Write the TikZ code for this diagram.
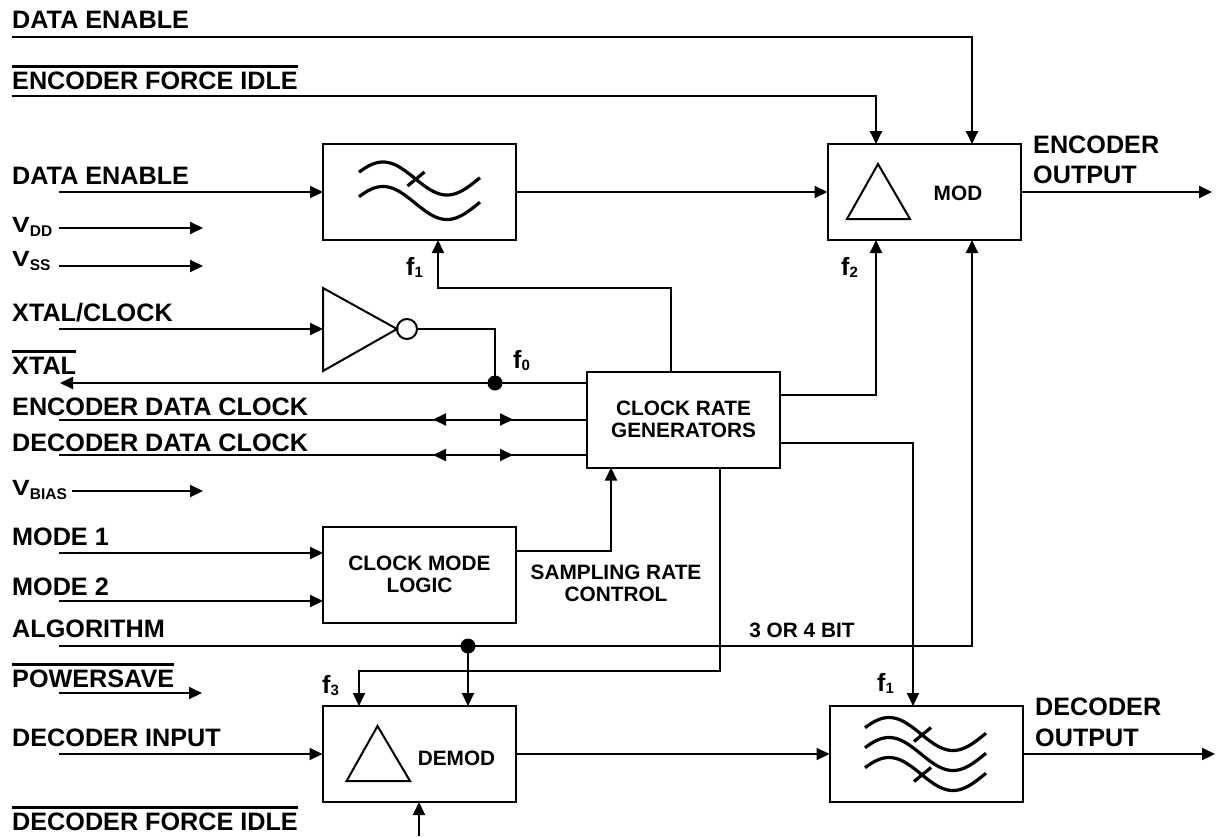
\documentclass[tikz,border=0pt]{standalone}
\usepackage{fontspec}
\setmainfont{Liberation Sans}
\usetikzlibrary{arrows.meta}
\newcommand\wavecurve[2]{\draw[line width=3.2pt,line join=round] plot[domain=0:121,samples=80] ({#1+\x},{#2-16.5*sin(2.8125*\x+22.5)});}
\newcommand\vlab[1]{\scalebox{1.2}[1]{\fontsize{22}{24}\selectfont V}\raisebox{-4.5pt}{\fontsize{15.5}{17}\selectfont #1}}
\newcommand\flab[1]{f\raisebox{-2.5pt}{\fontsize{15}{17}\selectfont #1}}
\tikzset{
  lw/.style={line width=2pt},
  arr/.style={lw,-{Triangle[length=13pt,width=12pt]}},
  dbl/.style={lw,{Triangle[length=13pt,width=12pt]}-{Triangle[length=13pt,width=12pt]}},
  blk/.style={draw,lw,minimum width=193pt,minimum height=96pt,inner sep=0pt,outer sep=0pt},
  lbl/.style={font=\fontsize{25.2}{30}\selectfont\bfseries,inner sep=0pt,anchor=base west},
  flbl/.style={font=\fontsize{25}{28}\selectfont\bfseries,inner sep=0pt,anchor=base west},
  btxt/.style={font=\fontsize{20.8}{22}\selectfont\bfseries,align=center,inner sep=0pt},
  dot/.style={circle,fill,inner sep=0pt,minimum size=15pt},
  obar/.style={line width=2.6pt},
}
\begin{document}
\begin{tikzpicture}[x=1pt,y=-1pt]
\useasboundingbox (0,0) rectangle (1218,836);
% guides
\coordinate (xL) at (876,0);
\coordinate (xR) at (972,0);
\coordinate (xF1) at (438,0);
\coordinate (xC1) at (671,0);
\coordinate (xSR) at (611,0);
\coordinate (xF3a) at (720,0);
\coordinate (xF3b) at (359,0);
\coordinate (xDF) at (913,0);
\coordinate (yX) at (0,383);
\coordinate (yDDC) at (0,455);
\coordinate (yF2) at (0,395);
\coordinate (yDF) at (0,443);
\coordinate (yM1) at (0,553);
\coordinate (yM2) at (0,601);
\coordinate (ySR) at (0,551);
\coordinate (yF3) at (0,671);
\coordinate (yF1) at (0,288);
% free ends
\coordinate (sDE1) at (12,37);
\coordinate (sEFI) at (12,96);
\coordinate (sDE2) at (59,192);
\coordinate (eEO) at (1212,192);
\coordinate (sVDD) at (59,228);
\coordinate (eVDD) at (203,228);
\coordinate (sVSS) at (59,266);
\coordinate (eVSS) at (203,266);
\coordinate (sXC) at (59,329);
\coordinate (invIn) at (323,329);
\coordinate (eX) at (60,383);
\coordinate (sEDC) at (59,419.5);
\coordinate (aEDC) at (433,419.5);
\coordinate (bEDC) at (513,419.5);
\coordinate (sDDC) at (59,455);
\coordinate (aDDC) at (433,455);
\coordinate (bDDC) at (513,455);
\coordinate (sVB) at (72,491);
\coordinate (eVB) at (203,491);
\coordinate (sM1) at (59,553);
\coordinate (sM2) at (59,601);
\coordinate (sAL) at (59,646);
\coordinate (sPS) at (59,693);
\coordinate (ePS) at (202,693);
\coordinate (sDI) at (59,754);
\coordinate (eDO) at (1215,754);
\coordinate (sDFI) at (419,836);
% blocks
\node[blk] (filt1) at (419.5,192) {};
\node[blk] (mod) at (924,192) {};
\node[blk,btxt] (crg) at (683.5,419.5) {CLOCK RATE\\GENERATORS};
\node[blk,btxt] (cml) at (419.5,574.5) {CLOCK MODE\\LOGIC};
\node[blk] (demod) at (419,754) {};
\node[blk] (filt2) at (926,754) {};
% filter symbols
\wavecurve{359}{178.5}
\wavecurve{359}{203}
\draw[line width=3.2pt] (407.5,186) -- (424.5,172);
\wavecurve{865}{734}
\wavecurve{865}{754}
\wavecurve{865}{774}
\draw[line width=3.2pt] (914,741.5) -- (931,727.5);
\draw[line width=3.2pt] (914,781.5) -- (931,767.5);
% triangles
\draw[lw,line join=miter] (878,164) -- (910,219) -- (847,219) -- cycle;
\draw[lw,line join=miter] (377.5,726) -- (410,781) -- (346.6,781) -- cycle;
\node[btxt] (tMOD) at (958,193) {MOD};
\node[btxt] (tDEMOD) at (456.5,758) {DEMOD};
% inverter
\draw[lw,line join=miter] (323,288) -- (397,329) -- (323,371) -- cycle;
\node[circle,draw,lw,minimum size=20pt,inner sep=0pt] (bub) at (407,329) {};
\node[dot] (dX) at (495,383) {};
\node[dot] (dA) at (468,646) {};
% connectors
\draw[arr] (sDE1) -| (mod.north -| xR);
\draw[arr] (sEFI) -| (mod.north -| xL);
\draw[arr] (sDE2) -- (filt1.west);
\draw[arr] (filt1.east) -- (mod.west);
\draw[arr] (mod.east) -- (eEO);
\draw[arr] (sVDD) -- (eVDD);
\draw[arr] (sVSS) -- (eVSS);
\draw[arr] (sXC) -- (invIn);
\draw[lw] (bub.east) -| (dX.center);
\draw[arr] (crg.west |- yX) -- (eX);
\draw[lw] (crg.west) -- (sEDC);
\draw[dbl] (aEDC) -- (bEDC);
\draw[lw] (crg.west |- yDDC) -- (sDDC);
\draw[dbl] (aDDC) -- (bDDC);
\draw[arr] (sVB) -- (eVB);
\draw[arr] (sM1) -- (cml.west |- yM1);
\draw[arr] (sM2) -- (cml.west |- yM2);
\draw[arr] (cml.east |- ySR) -| (crg.south -| xSR);
\draw[arr] (crg.north -| xC1) |- (yF1 -| xF1) -- (filt1.south -| xF1);
\draw[arr] (crg.east |- yF2) -| (mod.south -| xL);
\draw[arr] (crg.east |- yDF) -| (filt2.north -| xDF);
\draw[arr] (sAL) -| (mod.south -| xR);
\draw[arr] (dA.center) -- (demod.north -| dA);
\draw[arr] (crg.south -| xF3a) |- (yF3 -| xF3b) -- (demod.north -| xF3b);
\draw[arr] (sPS) -- (ePS);
\draw[arr] (sDI) -- (demod.west);
\draw[arr] (demod.east) -- (filt2.west);
\draw[arr] (filt2.east) -- (eDO);
\draw[arr] (sDFI) -- (demod.south);
% left labels
\node[lbl] (tDE1) at (12,28.5) {DATA ENABLE};
\node[lbl] (tEFI) at (12,89) {ENCODER FORCE IDLE};
\node[lbl] (tDE2) at (12,184) {DATA ENABLE};
\node[lbl] (tVDD) at (12,232) {\vlab{DD}};
\node[lbl] (tVSS) at (12,266) {\vlab{SS}};
\node[lbl] (tXC) at (12,321) {XTAL/CLOCK};
\node[lbl] (tX) at (12,374) {XTAL};
\node[lbl] (tEDC) at (12,415) {ENCODER DATA CLOCK};
\node[lbl] (tDDC) at (12,451) {DECODER DATA CLOCK};
\node[lbl] (tVB) at (12,495) {\vlab{BIAS}};
\node[lbl] (tM1) at (12,545) {MODE 1};
\node[lbl] (tM2) at (12,595) {MODE 2};
\node[lbl] (tAL) at (12,637) {ALGORITHM};
\node[lbl] (tPS) at (12,687) {POWERSAVE};
\node[lbl] (tDI) at (12,746) {DECODER INPUT};
\node[lbl] (tDFI) at (12,830) {DECODER FORCE IDLE};
\draw[obar] ([yshift=5pt]tEFI.north west) -- ([yshift=5pt]tEFI.north east);
\draw[obar] ([yshift=5pt]tX.north west) -- ([yshift=5pt]tX.north east);
\draw[obar] ([yshift=5pt]tPS.north west) -- ([yshift=5pt]tPS.north east);
\draw[obar] ([yshift=5pt]tDFI.north west) -- ([yshift=5pt]tDFI.north east);
% other labels
\node[lbl,anchor=west,align=left] (tEO) at (1033,160) {ENCODER\\OUTPUT};
\node[lbl,anchor=west,align=left,font=\fontsize{25.2}{31}\selectfont\bfseries] (tDO) at (1035,722) {DECODER\\OUTPUT};
\node[btxt] (tSR) at (616,583) {SAMPLING RATE\\CONTROL};
\node[btxt] (t34) at (802,630) {3 OR 4 BIT};
\node[flbl] (f1a) at (406,275) {\flab{1}};
\node[flbl] (f0) at (513,368) {\flab{0}};
\node[flbl] (f2) at (841,275) {\flab{2}};
\node[flbl] (f3) at (322,693) {\flab{3}};
\node[flbl] (f1b) at (877,691) {\flab{1}};
\end{tikzpicture}
\end{document}
